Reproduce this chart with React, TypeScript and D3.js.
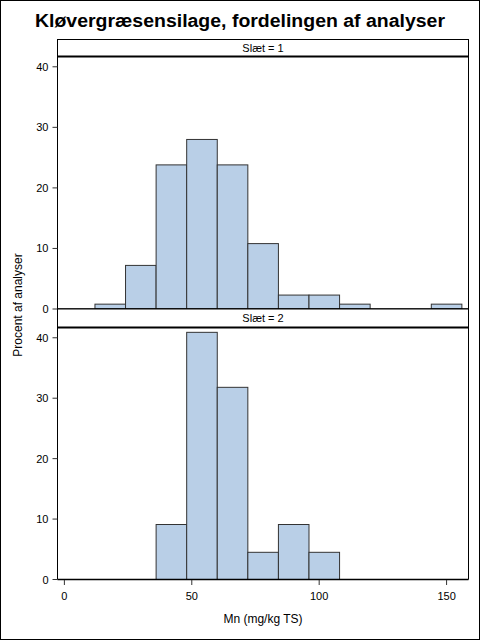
import React, { useRef, useEffect } from 'react';
import * as d3 from 'd3';

// histogram bins (Mn, mg/kg TS), width 12
const binStarts = [12, 24, 36, 48, 60, 72, 84, 96, 108, 120, 132, 144];
const binWidth = 12;
const pctSlaet1 = [0.8, 7.2, 23.8, 28.0, 23.8, 10.8, 2.3, 2.3, 0.8, 0, 0, 0.8];
const pctSlaet2 = [0, 0, 9.1, 40.9, 31.8, 4.5, 9.1, 4.5, 0, 0, 0, 0];
const panelLabels = ['Slæt = 1', 'Slæt = 2'];
const yTicks = [0, 10, 20, 30, 40];
const xTicks = [0, 50, 100, 150];

const FONT = '"Liberation Sans", Arial, sans-serif';

const App: React.FC = () => {
  const svgRef = useRef<SVGSVGElement>(null);

  useEffect(() => {
    if (!svgRef.current) return;
    const svg = d3.select(svgRef.current);
    svg.selectAll('*').remove();

    const left = 57.5;
    const right = 468.5;
    const x = d3.scaleLinear().domain([-2.7, 158.6]).range([left, right]);

    // outer frame
    svg.append('rect')
      .attr('x', 0.5).attr('y', 0.5).attr('width', 479).attr('height', 639)
      .attr('fill', '#fff').attr('stroke', '#000');

    svg.append('text')
      .attr('x', 240).attr('y', 27)
      .attr('text-anchor', 'middle')
      .attr('font-family', FONT).attr('font-weight', 'bold').attr('font-size', 18)
      .attr('textLength', 410).attr('lengthAdjust', 'spacingAndGlyphs')
      .text('Kløvergræsensilage, fordelingen af analyser');

    const panels = [
      { label: panelLabels[0], data: pctSlaet1, headTop: 39.5, headBottom: 56.5, bottom: 309 },
      { label: panelLabels[1], data: pctSlaet2, headTop: 309, headBottom: 327.5, bottom: 579.5 },
    ];

    panels.forEach(p => {
      const y = d3.scaleLinear().domain([0, 41.7]).range([p.bottom, p.headBottom]);
      const g = svg.append('g');

      // header box
      g.append('rect')
        .attr('x', left).attr('y', p.headTop)
        .attr('width', right - left).attr('height', p.headBottom - p.headTop)
        .attr('fill', '#fff').attr('stroke', '#000');
      g.append('text')
        .attr('x', (left + right) / 2).attr('y', (p.headTop + p.headBottom) / 2 + 4)
        .attr('text-anchor', 'middle')
        .attr('font-family', FONT).attr('font-size', 11)
        .text(p.label);

      // bars
      g.selectAll('rect.bar')
        .data(binStarts.map((s, i) => ({ s, v: p.data[i] })))
        .enter()
        .append('rect')
        .attr('class', 'bar')
        .attr('x', d => x(d.s))
        .attr('y', d => y(d.v))
        .attr('width', d => x(d.s + binWidth) - x(d.s))
        .attr('height', d => y(0) - y(d.v))
        .attr('fill', '#B9CFE7')
        .attr('stroke', '#333')
        .attr('stroke-width', 1);

      // panel frame
      g.append('line')
        .attr('x1', left).attr('x2', left).attr('y1', p.headBottom).attr('y2', p.bottom)
        .attr('stroke', '#000');
      g.append('line')
        .attr('x1', right).attr('x2', right).attr('y1', p.headBottom).attr('y2', p.bottom)
        .attr('stroke', '#000');
      g.append('line')
        .attr('x1', left).attr('x2', right).attr('y1', p.headBottom).attr('y2', p.headBottom)
        .attr('stroke', '#000').attr('stroke-width', 2);
      g.append('line')
        .attr('x1', left).attr('x2', right).attr('y1', p.bottom).attr('y2', p.bottom)
        .attr('stroke', '#000').attr('stroke-width', 1.5);

      // y axis ticks
      const ax = g.append('g');
      yTicks.forEach(t => {
        ax.append('line')
          .attr('x1', left - 5).attr('x2', left).attr('y1', y(t)).attr('y2', y(t))
          .attr('stroke', '#333');
        ax.append('text')
          .attr('x', left - 9).attr('y', y(t) + 4)
          .attr('text-anchor', 'end')
          .attr('font-family', FONT).attr('font-size', 11)
          .text(t);
      });
    });

    // x axis
    const xa = svg.append('g');
    xTicks.forEach(t => {
      xa.append('line')
        .attr('x1', x(t)).attr('x2', x(t)).attr('y1', 580).attr('y2', 585)
        .attr('stroke', '#333');
      xa.append('text')
        .attr('x', x(t)).attr('y', 600)
        .attr('text-anchor', 'middle')
        .attr('font-family', FONT).attr('font-size', 11)
        .text(t);
    });
    xa.append('text')
      .attr('x', (left + right) / 2).attr('y', 623)
      .attr('text-anchor', 'middle')
      .attr('font-family', FONT).attr('font-size', 12)
      .text('Mn (mg/kg TS)');

    svg.append('text')
      .attr('transform', 'translate(22,305) rotate(-90)')
      .attr('text-anchor', 'middle')
      .attr('font-family', FONT).attr('font-size', 12)
      .text('Procent af analyser');
  }, []);

  return (
    <svg
      ref={svgRef}
      width={480}
      height={640}
      style={{ position: 'absolute', left: 0, top: 0, background: '#fff' }}
    />
  );
};

export default App;
